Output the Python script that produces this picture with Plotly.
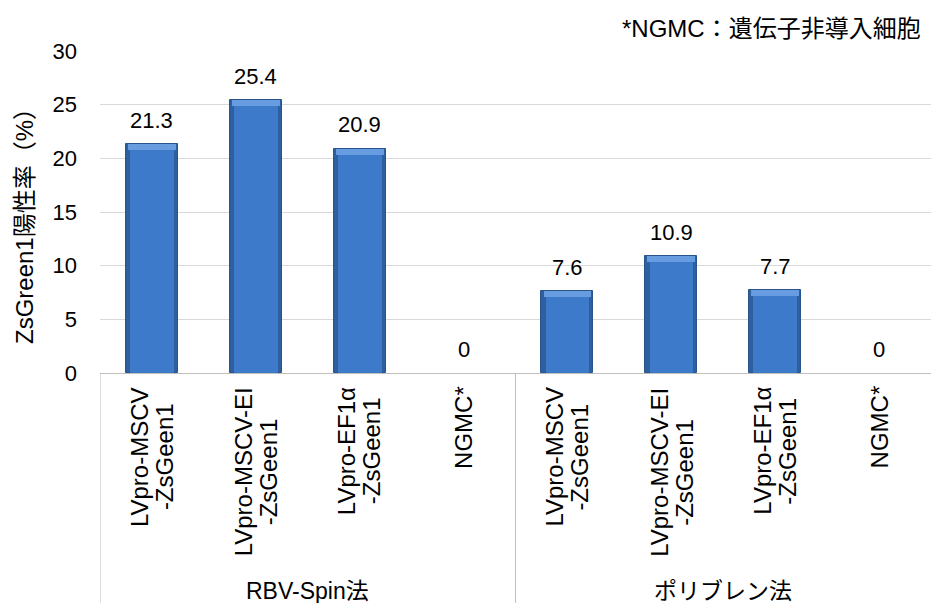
import plotly.graph_objects as go

categories = ["LVpro-MSCV<br>-ZsGeen1", "LVpro-MSCV-EI<br>-ZsGeen1", "LVpro-EF1α<br>-ZsGeen1", "NGMC*",
              "LVpro-MSCV<br>-ZsGeen1", "LVpro-MSCV-EI<br>-ZsGeen1", "LVpro-EF1α<br>-ZsGeen1", "NGMC*"]
values = [21.3, 25.4, 20.9, 0, 7.6, 10.9, 7.7, 0]
value_labels = ["21.3", "25.4", "20.9", "0", "7.6", "10.9", "7.7", "0"]
groups = ["RBV-Spin法", "ポリブレン法"]
group_centers = [1.5, 5.5]
y_ticks = [0, 5, 10, 15, 20, 25, 30]

LAT = "Liberation Sans, Arial, sans-serif"
MIX = "Liberation Sans, Arial, Noto Sans CJK JP, sans-serif"

# approximate Arial advance widths (em) to centre multi-line rotated labels
AW = {"L": .556, "V": .667, "p": .556, "r": .333, "o": .556, "-": .333, "M": .833, "S": .667, "C": .722,
      "E": .667, "I": .278, "F": .611, "1": .556, "α": .58, "Z": .611, "s": .5, "G": .778, "e": .556,
      "n": .556, "N": .722, "*": .389}


def text_len(t, size):
    return sum(AW.get(ch, .6) for ch in t) * size


xs = list(range(len(values)))
bevel = 0.55
outer_y = [v if v > 0 else None for v in values]
inner_y = [max(v - bevel, 0) if v > 0 else None for v in values]
hi_base = [v - bevel if v > 0 else None for v in values]
hi_h = [bevel if v > 0 else None for v in values]

fig = go.Figure()
fig.add_trace(go.Bar(x=xs, y=outer_y, width=0.5, marker=dict(color="#2e5f9f", line=dict(color="#28548c", width=1)),
                     hoverinfo="skip", showlegend=False))
fig.add_trace(go.Bar(x=xs, y=inner_y, width=0.42, marker=dict(color="#3d7bca", line=dict(width=0)),
                     hoverinfo="skip", showlegend=False))
fig.add_trace(go.Bar(x=xs, y=hi_h, base=hi_base, width=0.46, marker=dict(color="#679ce0", line=dict(width=0)),
                     hoverinfo="skip", showlegend=False))

annotations = []
for x, v, t in zip(xs, values, value_labels):
    annotations.append(dict(x=x, y=v, xref="x", yref="y", text=t, showarrow=False, yshift=24,
                            yanchor="middle", font=dict(family=LAT, size=22, color="#000000")))

CAT_SIZE = 24
LINE_GAP = 25
TOP_PAD = 13
for x, c in zip(xs, categories):
    lines = c.split("<br>")
    longest = max(text_len(l, CAT_SIZE) for l in lines)
    centre = TOP_PAD + longest / 2
    n = len(lines)
    for k, l in enumerate(lines):
        off = (k - (n - 1) / 2) * LINE_GAP
        annotations.append(dict(x=x, y=0, xref="x", yref="paper", text=l, showarrow=False, textangle=-90,
                                yanchor="middle", xanchor="center", yshift=-centre, xshift=off,
                                font=dict(family=LAT, size=CAT_SIZE, color="#000000")))

for gx, g in zip(group_centers, groups):
    annotations.append(dict(x=gx, y=-218 / 322, xref="x", yref="paper", text=g, showarrow=False,
                            yanchor="middle", xanchor="center", font=dict(family=MIX, size=23, color="#000000")))
annotations.append(dict(x=0, y=(373 - 220) / 322, xref="paper", yref="paper", text="ZsGreen1陽性率（%）",
                        showarrow=False, textangle=-90, xshift=-76, xanchor="center", yanchor="middle",
                        font=dict(family=MIX, size=24, color="#000000")))
annotations.append(dict(x=1, y=(373 - 28) / 322, xref="paper", yref="paper", text="*NGMC：遺伝子非導入細胞",
                        showarrow=False, xanchor="right", yanchor="middle", xshift=-8,
                        font=dict(family=MIX, size=24, color="#000000")))

shapes = []
for sx in [-0.5, 3.5]:
    shapes.append(dict(type="line", xref="x", yref="paper", x0=sx, x1=sx, y0=0, y1=-230 / 322,
                       line=dict(color="#bfbfbf", width=1)))

fig.update_layout(
    width=931, height=603,
    margin=dict(l=100, r=0, t=51, b=230),
    plot_bgcolor="white", paper_bgcolor="white",
    barmode="overlay", bargap=0,
    annotations=annotations, shapes=shapes,
    xaxis=dict(range=[-0.5, 7.5], showticklabels=False, showgrid=False, zeroline=False,
               showline=True, linecolor="#bfbfbf", linewidth=1, fixedrange=True),
    yaxis=dict(range=[0, 30], tickvals=y_ticks, showgrid=True, gridcolor="#d9d9d9", gridwidth=1,
               zeroline=False, showline=False, ticks="", ticklabelstandoff=22,
               tickfont=dict(family=LAT, size=22, color="#000000")),
)

fig.write_html("out.html", config={"displayModeBar": False},
               post_script="document.body.style.margin='0px';document.body.style.overflow='hidden';")
